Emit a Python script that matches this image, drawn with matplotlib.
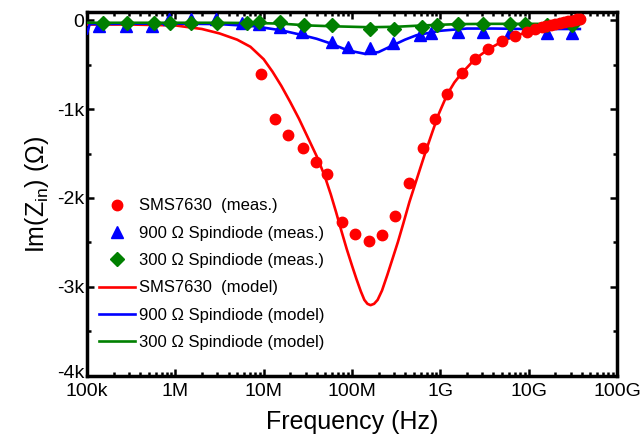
import numpy as np
import matplotlib
matplotlib.use("Agg")
import matplotlib.pyplot as plt
import matplotlib.transforms as mtransforms
from matplotlib.ticker import FixedLocator, FixedFormatter, LogLocator, NullFormatter, MultipleLocator

plt.rcParams['font.family'] = ['Liberation Sans', 'DejaVu Sans']
plt.rcParams['mathtext.default'] = 'regular'

# Measured data: log10(frequency / Hz) and Im(Z_in) in ohms
sms_meas_logf = [6.97, 7.13, 7.28, 7.44, 7.59, 7.72, 7.89, 8.03, 8.19, 8.34, 8.49, 8.64,
                 8.80, 8.94, 9.08, 9.24, 9.39, 9.54, 9.70, 9.84, 9.98, 10.07, 10.15,
                 10.20, 10.25, 10.30, 10.35, 10.40, 10.44, 10.48, 10.52, 10.55, 10.58]
sms_meas_im = [-610, -1110, -1290, -1440, -1600, -1730, -2270, -2400, -2480, -2420, -2200, -1830,
               -1440, -1110, -830, -600, -440, -330, -240, -180, -130, -105, -80,
               -70, -55, -45, -35, -25, -15, -5, 5, 10, 15]

sd900_meas_logf = [5.14, 5.44, 5.74, 5.93, 6.18, 6.46, 6.75, 6.95, 7.19, 7.43, 7.77, 7.95,
                   8.20, 8.46, 8.77, 8.90, 9.20, 9.48, 9.79, 10.21, 10.49]
sd900_meas_im = [-70, -70, -70, 10, 10, 10, -30, -45, -80, -135, -250, -300,
                 -310, -260, -170, -150, -130, -130, -130, -140, -140]

sd300_meas_logf = [5.18, 5.45, 5.76, 5.94, 6.18, 6.47, 6.81, 6.95, 7.19, 7.46, 7.77, 8.20,
                   8.48, 8.79, 8.96, 9.20, 9.48, 9.79, 9.96, 10.21, 10.49]
sd300_meas_im = [-34, -34, -34, -34, -34, -34, -34, -20, -20, -60, -60, -100,
                 -100, -80, -60, -45, -45, -45, -45, -60, -60]

# Model curves
sms_model_logf = [5.0, 5.5, 6.0, 6.3, 6.5, 6.7, 6.85, 7.0, 7.1, 7.2, 7.3, 7.4, 7.5, 7.6,
                  7.69, 7.76, 7.82, 7.88, 7.94, 8.0, 8.05, 8.1, 8.14, 8.175, 8.21, 8.25,
                  8.29, 8.34, 8.40, 8.46, 8.52, 8.58, 8.65, 8.71, 8.77, 8.84, 8.91, 8.98,
                  9.08, 9.16, 9.24, 9.39, 9.54, 9.70, 9.84, 10.0, 10.15, 10.3, 10.45, 10.58]
sms_model_im = [-50, -50, -60, -100, -150, -220, -300, -440, -580, -740, -920, -1110, -1320,
                -1530, -1750, -1960, -2160, -2370, -2573, -2760, -2910, -3050, -3146, -3190,
                -3205, -3190, -3146, -3040, -2865, -2680, -2494, -2290, -2045, -1860, -1674,
                -1460, -1258, -1060, -831, -700, -600, -440, -330, -240, -180, -130, -90,
                -65, -50, -40]

sd900_model_logf = [5.0, 5.03, 5.5, 6.0, 6.5, 6.9, 7.2, 7.4, 7.6, 7.75, 7.9, 8.0, 8.15, 8.3,
                    8.46, 8.6, 8.73, 9.0, 9.3, 9.6, 10.0, 10.58]
sd900_model_im = [-150, -45, -40, -40, -45, -70, -115, -160, -210, -260, -320, -350, -380,
                  -360, -285, -220, -170, -120, -95, -95, -100, -100]

sd300_model_logf = [5.0, 5.5, 6.0, 6.5, 7.0, 7.2, 7.5, 7.8, 8.2, 8.5, 8.8, 9.2, 9.6, 10.0, 10.58]
sd300_model_im = [-30, -30, -30, -30, -35, -40, -60, -70, -80, -75, -60, -45, -42, -42, -45]

x_tick_labels = ['100k', '1M', '10M', '100M', '1G', '10G', '100G']
y_tick_labels = ['-4k', '-3k', '-2k', '-1k', '0']

RED, BLUE, GREEN = '#ff0000', '#0000ff', '#008000'

fig = plt.figure(figsize=(6.4, 4.48), dpi=100)
ax = fig.add_axes([0.136, 0.161, 0.828, 0.812])

def f(logf):
    return 10.0 ** np.asarray(logf)

l_sms, = ax.plot(f(sms_model_logf), sms_model_im, color=RED, lw=1.9, zorder=3,
                 label='SMS7630  (model)')
l_900, = ax.plot(f(sd900_model_logf), sd900_model_im, color=BLUE, lw=1.9, zorder=3,
                 label='900 Ω Spindiode (model)')
l_300, = ax.plot(f(sd300_model_logf), sd300_model_im, color=GREEN, lw=1.9, zorder=3,
                 label='300 Ω Spindiode (model)')

m_900, = ax.plot(f(sd900_meas_logf), sd900_meas_im, ls='none', marker='^', ms=8.5,
                 color=BLUE, mec=BLUE, zorder=4, label='900 Ω Spindiode (meas.)')
m_300, = ax.plot(f(sd300_meas_logf), sd300_meas_im, ls='none', marker='D', ms=7,
                 color=GREEN, mec=GREEN, zorder=5, label='300 Ω Spindiode (meas.)')
m_sms, = ax.plot(f(sms_meas_logf), sms_meas_im, ls='none', marker='o', ms=7.5,
                 color=RED, mec=RED, zorder=6, label='SMS7630  (meas.)')

ax.set_xscale('log')
ax.set_xlim(1e5, 1e11)
ax.set_ylim(-4000, 90)

ax.xaxis.set_major_locator(FixedLocator([1e5, 1e6, 1e7, 1e8, 1e9, 1e10, 1e11]))
ax.xaxis.set_major_formatter(FixedFormatter(x_tick_labels))
ax.xaxis.set_minor_locator(LogLocator(base=10, subs=np.arange(2, 10), numticks=20))
ax.xaxis.set_minor_formatter(NullFormatter())
ax.yaxis.set_major_locator(FixedLocator([-4000, -3000, -2000, -1000, 0]))
ax.yaxis.set_major_formatter(FixedFormatter(y_tick_labels))
ax.yaxis.set_minor_locator(MultipleLocator(500))

ax.tick_params(which='both', direction='in', top=True, right=True, width=1.8,
               labelsize=14)
ax.tick_params(axis='y', pad=2)
ax.tick_params(axis='x', pad=5)
ax.tick_params(which='major', length=5)
ax.tick_params(which='minor', length=3)
for s in ax.spines.values():
    s.set_linewidth(2.5)

# lift the bottom y label a little so it clears the first x label
bottom_label = ax.yaxis.get_major_ticks()[0].label1
bottom_label.set_transform(bottom_label.get_transform() +
                           mtransforms.ScaledTranslation(0, 3 / 72, fig.dpi_scale_trans))

ax.set_xlabel('Frequency (Hz)', fontsize=18, labelpad=7)
ax.set_ylabel('Im(Z$_{in}$) (Ω)', fontsize=18, labelpad=4)

handles = [m_sms, m_900, m_300, l_sms, l_900, l_300]
ax.legend(handles=handles, loc='upper left', bbox_to_anchor=(0.0, 0.52),
          frameon=False, fontsize=12, handlelength=2.15, handletextpad=0.25,
          labelspacing=0.74, borderaxespad=0.3)

fig.savefig('out.png', dpi=100)
